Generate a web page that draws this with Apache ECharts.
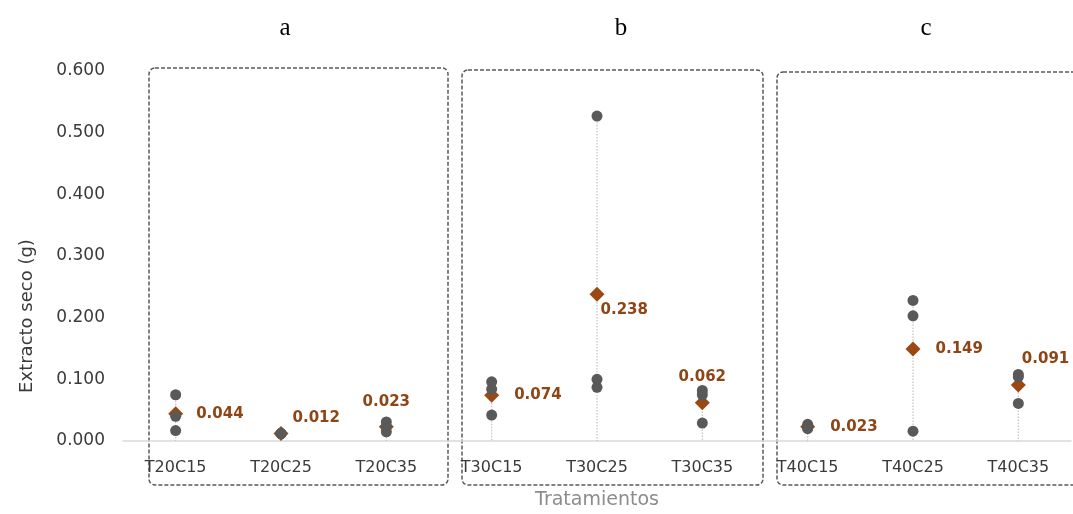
<!DOCTYPE html>
<html>
<head>
<meta charset="utf-8">
<script src="https://cdn.jsdelivr.net/npm/echarts@6/dist/echarts.min.js"></script>
<style>
  html, body { margin: 0; padding: 0; background: #fff; }
  #chart { width: 1073px; height: 514px; }
</style>
</head>
<body>
<div id="chart"></div>
<script>
'use strict';

// tratamientos (x axis)
var categories = ['T20C15', 'T20C25', 'T20C35', 'T30C15', 'T30C25', 'T30C35', 'T40C15', 'T40C25', 'T40C35'];
// repeticiones
var rep1 = [0.075, 0.012, 0.031, 0.096, 0.527, 0.082, 0.027, 0.228, 0.108];
var rep2 = [0.040, 0.012, 0.023, 0.084, 0.100, 0.075, 0.022, 0.203, 0.104];
var rep3 = [0.017, 0.012, 0.015, 0.042, 0.087, 0.029, 0.020, 0.016, 0.061];
// promedios
var means = [0.044, 0.012, 0.023, 0.074, 0.238, 0.062, 0.023, 0.149, 0.091];
var groupTitles = ['a', 'b', 'c'];

var brown = '#9a4814';
var gray = '#595959';

// label placement per mean point
var labelStyle = [
  { position: 'right', distance: 13 },
  { position: 'right', distance: 4, offset: [0, -15] },
  { position: 'top', distance: 5, offset: [0, -5] },
  { position: 'right', distance: 15 },
  { position: 'right', distance: 4, offset: [-8, 16] },
  { position: 'top', distance: 5, offset: [0, -6] },
  { position: 'right', distance: 15 },
  { position: 'right', distance: 15 },
  { position: 'right', distance: 4, offset: [-8, -26] }
];

var dots = [];
var maxVals = [];
for (var i = 0; i < categories.length; i++) {
  dots.push([i, rep1[i]], [i, rep2[i]], [i, rep3[i]]);
  maxVals.push([i, Math.max(rep1[i], rep2[i], rep3[i])]);
}

var meanData = means.map(function (v, i) {
  return {
    value: [i, v],
    label: labelStyle[i]
  };
});

function box(x, y, w, h) {
  return {
    type: 'rect',
    shape: { x: x, y: y, width: w, height: h, r: 6 },
    style: { fill: 'none', stroke: gray, lineWidth: 1.5, lineDash: [4, 2] },
    z: 0
  };
}

function title(text, x) {
  return {
    type: 'text',
    x: x,
    y: 28,
    style: {
      text: text,
      font: '25px "Liberation Serif"',
      fill: '#000',
      align: 'center',
      verticalAlign: 'middle'
    }
  };
}

var option = {
  animation: false,
  backgroundColor: '#fff',
  grid: { left: 123, right: 2, top: 71, bottom: 73, outerBoundsMode: 'none' },
  xAxis: {
    type: 'category',
    data: categories,
    axisTick: { show: false },
    axisLine: { lineStyle: { color: '#d9d9d9', width: 1.5 } },
    axisLabel: {
      color: '#3a3a3a',
      fontFamily: 'DejaVu Sans',
      fontSize: 16,
      margin: 19
    },
    name: 'Tratamientos',
    nameLocation: 'middle',
    nameGap: 50,
    nameTextStyle: { color: '#8c8c8c', fontFamily: 'DejaVu Sans', fontSize: 19 }
  },
  yAxis: {
    type: 'value',
    min: 0,
    max: 0.6,
    interval: 0.1,
    splitLine: { show: false },
    axisLine: { show: false },
    axisTick: { show: false },
    axisLabel: {
      color: '#3a3a3a',
      fontFamily: 'DejaVu Sans',
      fontSize: 17,
      margin: 18,
      formatter: function (v) { return v.toFixed(3); }
    }
  },
  graphic: [
    box(149, 68, 299, 417),
    box(462, 70, 301, 415),
    box(777, 72, 320, 413),
    title(groupTitles[0], 285),
    title(groupTitles[1], 621),
    title(groupTitles[2], 926),
    {
      type: 'text',
      x: 27,
      y: 316,
      rotation: Math.PI / 2,
      style: {
        text: 'Extracto seco (g)',
        font: '18px "DejaVu Sans"',
        fill: '#3a3a3a',
        align: 'center',
        verticalAlign: 'middle'
      }
    }
  ],
  series: [{
    type: 'custom',
    data: maxVals,
    z: 1,
    renderItem: function (params, api) {
      var top = api.coord([api.value(0), api.value(1)]);
      var bottom = api.coord([api.value(0), 0]);
      return {
        type: 'line',
        shape: { x1: top[0], y1: top[1], x2: bottom[0], y2: bottom[1] },
        style: { stroke: '#c4c4c4', lineWidth: 1.2, lineDash: [1.5, 1.5] }
      };
    }
  }, {
    type: 'scatter',
    name: 'Promedio',
    data: meanData,
    symbol: 'diamond',
    symbolSize: 15,
    z: 2,
    itemStyle: { color: brown, opacity: 1 },
    label: {
      show: true,
      color: '#8f4515',
      fontFamily: 'DejaVu Sans',
      fontWeight: 'bold',
      fontSize: 15,
      formatter: function (p) { return p.value[1].toFixed(3); }
    }
  }, {
    type: 'scatter',
    name: 'Repeticiones',
    data: dots,
    symbol: 'circle',
    symbolSize: 11,
    z: 3,
    itemStyle: { color: gray, opacity: 1 }
  }]
};

var myChart = echarts.init(document.getElementById('chart'));
myChart.setOption(option);
</script>
</body>
</html>
